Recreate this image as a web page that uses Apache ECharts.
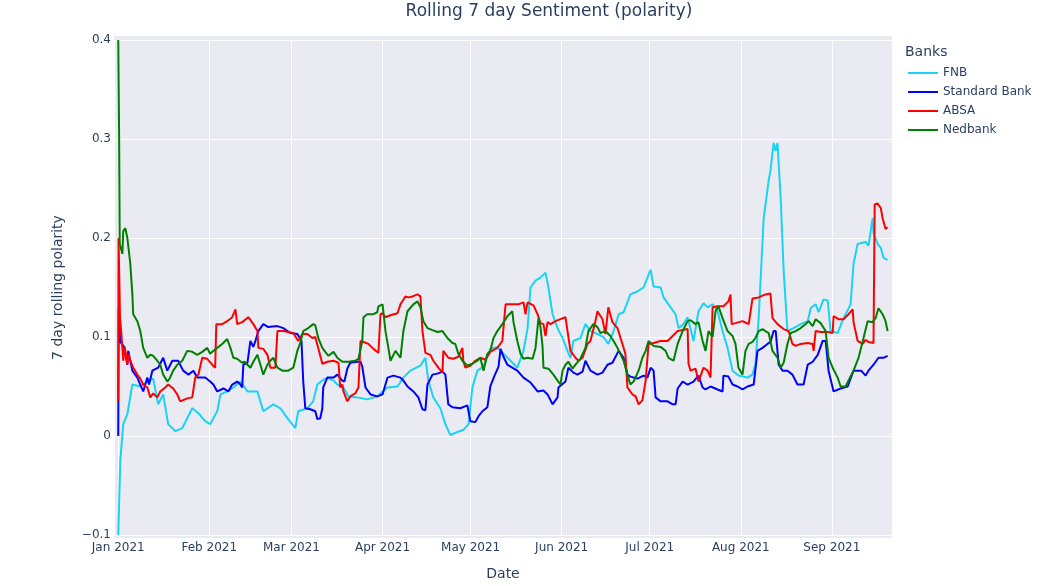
<!DOCTYPE html>
<html>
<head>
<meta charset="UTF-8">
<title>Rolling 7 day Sentiment</title>
<script src="https://cdn.jsdelivr.net/npm/echarts@6/dist/echarts.min.js"></script>
<style>
  *{margin:0;padding:0}
  html,body{width:100%;height:100%;background:#fff}
  #main{width:1052px;height:586px}
</style>
</head>
<body>
<div id="main"></div>
<script>
// x values are days since 2021-01-01, y is the 7 day rolling polarity
var seriesNames = ['FNB', 'Standard Bank', 'ABSA', 'Nedbank'];
var monthNames = ['Jan','Feb','Mar','Apr','May','Jun','Jul','Aug','Sep','Oct','Nov','Dec'];
var yTicks = [-0.1, 0, 0.1, 0.2, 0.3, 0.4];

var fnb = [[0,-0.1],[0.7,-0.025],[1.7,0.012],[3.1,0.022],[4.8,0.052],[7.5,0.05],[9.9,0.055],[11.9,0.058],[13.6,0.032],[15.3,0.042],[17.0,0.012],[19.4,0.005],[21.8,0.008],[23.5,0.018],[25.2,0.028],[27.3,0.023],[29.6,0.015],[31.3,0.012],[33.7,0.025],[34.8,0.042],[37.1,0.045],[39.2,0.049],[41.6,0.055],[44.0,0.045],[47.4,0.045],[49.4,0.025],[52.8,0.032],[55.2,0.028],[57.6,0.018],[60.3,0.008],[61.3,0.025],[64.4,0.028],
  [66.4,0.035],[67.8,0.052],[69.5,0.056],[71.2,0.059],[73.3,0.056],[74.6,0.052],[76.7,0.049],[78.4,0.04],[81.4,0.039],[84.8,0.037],[88.2,0.04],[90.0,0.045],[91.7,0.049],[95.1,0.05],[97.1,0.059],[99.5,0.066],[102.9,0.071],[104.6,0.079],[105.6,0.056],[107.3,0.039],[109.7,0.028],[111.4,0.012],[113.1,0.001],[115.5,0.004],[117.5,0.006],[119.3,0.012],[120.6,0.049],[122.3,0.066],[124.4,0.07],[126.7,0.088],[129.1,0.09],
  [130.2,0.086],[133.6,0.076],[135.9,0.069],[138.0,0.086],[139.4,0.109],[140.4,0.15],[142.1,0.157],[143.8,0.16],[145.5,0.165],[146.5,0.15],[147.9,0.123],[149.6,0.109],[151.3,0.099],[153.0,0.086],[154.0,0.079],[155.0,0.096],[157.4,0.099],[159.1,0.113],[160.8,0.106],[163.2,0.103],[165.2,0.1],[166.9,0.093],[168.7,0.106],[170.4,0.123],[172.1,0.125],[174.4,0.143],[176.8,0.146],[178.9,0.15],[180.2,0.16],[181.3,0.168],[182.3,0.151],[184.7,0.15],[185.7,0.14],[188.1,0.13],[189.8,0.123],[190.8,0.109],[192.5,0.113],
  [193.9,0.12],[195.9,0.096],[197.6,0.126],[199.3,0.134],[200.7,0.13],[202.4,0.133],[204.1,0.126],[205.8,0.106],[207.5,0.089],[209.2,0.066],[211.2,0.061],[214.3,0.059],[216.0,0.062],[217.0,0.073],[218.1,0.119],[219.8,0.22],[221.5,0.258],[222.1,0.268],[223.2,0.296],[223.9,0.288],[224.5,0.296],[225.6,0.24],[226.6,0.167],[227.9,0.106],[230.0,0.109],[232.4,0.113],[234.8,0.116],[235.8,0.129],[237.5,0.133],[238.5,0.125],[240.2,0.138],[241.6,0.137],[242.6,0.106],[245.0,0.104],[247.0,0.119],[249.4,0.133],[250.4,0.174],[251.8,0.194],[254.5,0.196],[255.5,0.192],[256.9,0.22],[257.2,0.205],[258.6,0.194],[259.7,0.19],[260.6,0.18],[262.0,0.178]];

var standardBank = [[0,0],[0.15,0.128],[0.7,0.095],[2.0,0.09],[3.1,0.072],[3.4,0.086],[4.8,0.066],[6.5,0.059],[7.5,0.052],[8.5,0.045],[9.0,0.045],[9.9,0.059],[10.5,0.052],[11.6,0.066],[13.6,0.069],[15.3,0.079],[16.7,0.066],[18.4,0.076],[20.4,0.076],[22.1,0.066],[23.9,0.062],[25.6,0.066],[26.9,0.059],[29.6,0.059],[31.3,0.055],[32.4,0.052],[33.7,0.045],[35.8,0.048],[37.5,0.045],[38.8,0.052],[40.5,0.055],[41.6,0.052],[42.2,0.049],[42.6,0.072],[44.0,0.074],[45.0,0.096],[46.0,0.09],[46.7,0.096],[47.7,0.106],[49.4,0.113],[51.1,0.11],[54.2,0.111],[56.2,0.109],[58.6,0.104],[61.0,0.103],[62.4,0.096],[63.0,0.055],[63.7,0.028],[65.4,0.027],[67.1,0.025],[67.8,0.017],[68.8,0.018],[69.5,0.028],[69.8,0.049],[71.2,0.059],[73.3,0.059],[74.6,0.062],[76.3,0.056],[77.0,0.055],[78.0,0.068],[79.0,0.074],[81.4,0.075],[82.5,0.075],[83.1,0.07],[84.2,0.049],[85.9,0.042],[88.2,0.04],[90.0,0.042],[91.7,0.059],[93.7,0.061],[96.1,0.059],[97.1,0.056],[98.5,0.05],[100.5,0.045],[102.2,0.039],[103.6,0.027],[104.6,0.026],[105.3,0.052],[107.0,0.062],[108.7,0.063],[110.4,0.065],[111.4,0.062],[112.4,0.032],[113.8,0.029],[116.5,0.028],[118.9,0.031],[119.9,0.015],[121.6,0.014],[122.7,0.02],[124.0,0.025],[125.7,0.029],
  [126.7,0.05],[128.0,0.06],[129.5,0.07],[130.2,0.088],[131.2,0.08],[132.5,0.072],[133.6,0.07],[135.9,0.066],[138.0,0.059],[140.4,0.054],[142.8,0.045],[144.8,0.046],[146.2,0.042],[147.9,0.032],[149.6,0.039],[149.9,0.049],[152.3,0.055],[153.3,0.069],[155.0,0.064],[156.4,0.062],[158.1,0.065],[159.1,0.076],[160.8,0.066],[163.2,0.062],[164.9,0.064],[166.6,0.072],[168.3,0.074],[170.4,0.086],[172.1,0.079],[173.4,0.062],[174.4,0.06],[176.8,0.058],[178.9,0.061],[180.2,0.059],[181.3,0.069],[182.3,0.066],[183.0,0.039],[184.7,0.035],[187.1,0.035],[188.8,0.032],[189.8,0.032],[190.5,0.048],[192.2,0.055],[193.9,0.052],[195.9,0.055],[197.6,0.061],[199.0,0.049],[200.0,0.047],[201.7,0.05],[204.1,0.047],[205.8,0.045],[206.1,0.061],[207.8,0.06],[209.2,0.052],[210.9,0.05],[212.6,0.047],[214.3,0.05],[216.4,0.052],[217.7,0.086],[219.4,0.089],[221.1,0.093],[222.1,0.095],[223.2,0.106],[223.9,0.106],[224.9,0.072],[225.6,0.069],[226.2,0.066],[227.9,0.066],[229.6,0.062],[231.3,0.052],[233.4,0.052],[234.8,0.072],[236.5,0.075],[238.2,0.082],[239.9,0.096],[240.9,0.096],[241.9,0.066],[243.6,0.045],[246.0,0.048],[248.4,0.05],[250.4,0.066],[253.0,0.066],[254.5,0.061],[255.5,0.066],[257.2,0.072],[258.9,0.079],[260.6,0.079],[262.0,0.081]];

var absa = [[0,0.035],[0.1,0.2],[0.6,0.119],[1.0,0.106],[1.7,0.076],[2.2,0.09],[3.1,0.072],[3.4,0.083],[4.1,0.076],[5.1,0.069],[6.5,0.062],[7.5,0.058],[8.5,0.052],[9.9,0.049],[10.9,0.039],[11.9,0.043],[13.3,0.039],[14.3,0.045],[16.0,0.049],[17.0,0.052],[18.7,0.048],[20.1,0.042],[21.1,0.035],[23.5,0.038],[25.2,0.039],[26.2,0.059],[27.3,0.062],[28.6,0.079],[30.3,0.078],[32.0,0.072],[33.0,0.069],[33.4,0.113],[35.4,0.113],[37.1,0.116],[38.8,0.12],[39.9,0.128],[40.5,0.113],[42.2,0.115],[44.3,0.12],[46.0,0.113],[47.4,0.106],[47.7,0.089],[49.4,0.088],[50.8,0.082],[51.8,0.069],[53.5,0.069],[54.2,0.106],[56.2,0.106],[59.6,0.104],[61.3,0.096],[62.7,0.103],[64.4,0.103],
  [66.1,0.099],[67.1,0.1],[68.1,0.089],[69.5,0.073],[71.2,0.075],[73.3,0.076],[75.0,0.074],[75.6,0.049],[76.3,0.052],[76.7,0.045],[78.0,0.035],[79.0,0.04],[80.7,0.043],[81.8,0.049],[82.5,0.096],[83.5,0.095],[85.2,0.093],[86.9,0.088],[88.6,0.084],[89.3,0.123],[90.0,0.124],[91.0,0.12],[92.7,0.122],[95.1,0.124],[96.1,0.133],[97.8,0.141],[98.8,0.14],[100.2,0.141],[101.9,0.143],[102.9,0.141],[103.6,0.106],[104.6,0.084],[106.3,0.082],[107.3,0.076],[109.0,0.069],[110.4,0.064],[110.7,0.086],[112.4,0.079],[114.1,0.078],[115.8,0.08],[117.2,0.089],[117.5,0.076],[118.2,0.069],[119.9,0.071],[121.6,0.076],[123.3,0.079],[125.0,0.077],[126.7,0.085],[129.1,0.089],[130.8,0.096],[131.9,0.133],[134.2,0.133],[136.3,0.133],[138.0,0.135],[138.7,0.123],[139.4,0.135],[141.4,0.132],[142.8,0.123],[143.8,0.114],[144.8,0.113],[145.5,0.101],[146.2,0.115],[147.2,0.113],[148.9,0.116],[150.6,0.118],[152.3,0.12],[153.0,0.106],[154.0,0.086],[155.7,0.079],[156.7,0.076],[158.1,0.079],[159.8,0.093],[160.8,0.096],[162.5,0.116],[163.2,0.126],[164.9,0.118],[165.9,0.103],[166.9,0.13],[168.3,0.115],[170.0,0.109],[171.7,0.093],[172.7,0.083],[173.4,0.049],[175.1,0.042],[176.2,0.04],[177.2,0.032],[178.5,0.036],[179.6,0.056],[180.6,0.093],[182.3,0.094],[184.7,0.096],[187.1,0.096],[188.8,0.101],[190.5,0.106],[192.2,0.107],[193.9,0.108],[194.2,0.073],[194.9,0.066],[196.6,0.068],[197.6,0.055],[199.3,0.069],[200.7,0.066],[201.7,0.059],[202.4,0.13],[204.1,0.131],[206.1,0.131],[207.8,0.136],[208.5,0.143],[208.9,0.113],[210.2,0.114],[212.6,0.116],[214.7,0.113],[216.0,0.139],[218.1,0.14],[220.4,0.143],[222.1,0.144],[222.8,0.119],[224.5,0.113],[226.6,0.108],[228.3,0.106],[229.6,0.093],[230.7,0.091],[232.4,0.093],[234.8,0.094],[236.5,0.093],[236.8,0.086],[237.5,0.106],[239.2,0.105],[241.6,0.105],[243.3,0.104],[243.6,0.121],[245.3,0.118],[247.0,0.118],[248.7,0.123],[250.1,0.128],[250.4,0.115],[251.8,0.096],[253.5,0.093],[254.5,0.097],[255.5,0.095],[257.2,0.094],[257.6,0.234],[258.6,0.235],[259.7,0.23],[260.3,0.22],[261.3,0.209],[262.0,0.211]];

var nedbank = [[0,0.4],[0.3,0.3],[0.5,0.194],[1.4,0.184],[1.7,0.207],[2.4,0.21],[3.1,0.2],[3.6,0.2],[4.1,0.174],[4.8,0.143],[5.1,0.123],[6.5,0.116],[7.5,0.106],[8.5,0.089],[9.9,0.079],[10.9,0.082],[11.9,0.081],[13.3,0.076],[14.3,0.072],[15.3,0.062],[16.7,0.055],[17.5,0.058],[18.7,0.066],[20.1,0.072],[21.8,0.076],[23.5,0.086],[25.2,0.085],[26.9,0.082],[28.6,0.085],[30.3,0.089],[31.3,0.083],[32.4,0.086],[33.7,0.089],[35.4,0.093],[37.1,0.098],[38.2,0.089],[39.2,0.079],[40.5,0.078],[42.2,0.074],[43.0,0.075],[45.0,0.069],[46.0,0.075],[47.4,0.082],[48.4,0.072],[49.4,0.062],[50.8,0.072],[51.8,0.076],[52.8,0.079],[54.2,0.069],[55.9,0.066],[57.9,0.066],[59.6,0.069],[61.0,0.086],[62.0,0.094],[63.0,0.106],[64.7,0.109],
  [66.4,0.113],[67.1,0.112],[68.1,0.099],[69.5,0.089],[70.5,0.085],[71.6,0.081],[73.3,0.085],[74.6,0.079],[76.3,0.075],[78.4,0.075],[80.7,0.076],[81.8,0.078],[83.1,0.096],[83.5,0.12],[84.8,0.123],[86.9,0.123],[88.2,0.125],[88.6,0.131],[90.0,0.133],[91.0,0.106],[92.0,0.089],[92.7,0.076],[94.4,0.086],[96.1,0.079],[97.1,0.106],[98.5,0.126],[100.5,0.133],[101.9,0.136],[102.9,0.13],[103.9,0.116],[105.3,0.109],[107.0,0.107],[108.7,0.105],[110.4,0.106],[112.1,0.099],[113.8,0.094],[114.8,0.093],[115.8,0.083],[117.2,0.076],[118.9,0.071],[120.6,0.073],[122.3,0.076],[123.3,0.079],[124.4,0.066],[125.7,0.083],[126.7,0.086],[127.8,0.099],[129.1,0.106],[130.8,0.113],[132.5,0.121],[134.2,0.126],[134.6,0.115],[135.9,0.096],[137.0,0.083],[138.0,0.078],[139.4,0.079],[141.1,0.078],[142.1,0.089],[143.1,0.119],[143.8,0.11],[144.5,0.09],[144.8,0.069],[146.5,0.068],[148.2,0.062],[149.6,0.056],[150.6,0.052],[151.3,0.066],[152.3,0.072],[153.3,0.075],[154.7,0.068],[155.7,0.072],[157.4,0.078],[159.1,0.089],[160.1,0.106],[161.8,0.113],[163.2,0.11],[164.2,0.104],[165.9,0.106],[167.6,0.101],[168.7,0.096],[170.0,0.089],[171.0,0.083],[172.1,0.076],[173.4,0.062],[174.4,0.052],[175.5,0.055],[177.2,0.066],[178.5,0.079],[179.6,0.086],[180.6,0.096],[182.3,0.091],[184.7,0.09],[186.4,0.086],[187.4,0.079],[189.1,0.076],[190.5,0.093],[192.2,0.106],[193.9,0.116],[194.9,0.117],[196.6,0.113],[197.6,0.115],[199.0,0.096],[200.0,0.086],[201.0,0.106],[202.4,0.1],[203.4,0.126],[204.4,0.131],[205.8,0.119],[207.5,0.106],[209.2,0.101],[210.2,0.093],[211.2,0.069],[212.6,0.062],[213.6,0.086],[214.7,0.093],[216.0,0.095],[217.0,0.099],[218.1,0.106],[219.4,0.108],[220.4,0.106],[221.5,0.104],[222.8,0.086],[224.5,0.079],[225.6,0.069],[226.6,0.074],[227.9,0.093],[229.0,0.104],[230.7,0.106],[232.4,0.109],[234.1,0.113],[235.1,0.116],[236.5,0.111],[237.5,0.118],[239.2,0.114],[240.9,0.106],[241.9,0.079],[243.3,0.069],[245.0,0.059],[246.0,0.05],[247.7,0.05],[248.7,0.056],[250.4,0.066],[252.1,0.079],[253.8,0.099],[255.2,0.116],[256.9,0.115],[257.9,0.119],[258.9,0.129],[260.3,0.123],[261.3,0.116],[262.0,0.106]];

var lineColors = ['#19d3f3', '#0000ff', '#ff0000', '#008000'];
var textColor = '#2a3f5f';
var fontFamily = 'Verdana, "DejaVu Sans", sans-serif';

var DAY = 86400000;
var start = Date.UTC(2021, 0, 1);
function toTime(pts) {
    return pts.map(function (p) { return [start + p[0] * DAY, p[1]]; });
}
var allData = [fnb, standardBank, absa, nedbank];

var myChart = echarts.init(document.getElementById('main'), null, {renderer: 'canvas'});

var option = {
    useUTC: true,
    animation: false,
    backgroundColor: '#ffffff',
    textStyle: {fontFamily: fontFamily, color: textColor},
    title: [
        {
            text: 'Rolling 7 day Sentiment (polarity)',
            left: 549, top: 3, textAlign: 'center', padding: 0,
            textStyle: {fontSize: 17, fontWeight: 'normal', color: textColor, fontFamily: fontFamily}
        },
        {
            text: 'Banks',
            left: 905, top: 45, padding: 0,
            textStyle: {fontSize: 14, fontWeight: 'normal', color: textColor, fontFamily: fontFamily}
        }
    ],
    legend: {
        orient: 'vertical',
        left: 908, top: 66,
        padding: 0,
        icon: 'rect',
        itemWidth: 30, itemHeight: 2,
        itemGap: 5,
        textStyle: {fontSize: 12, lineHeight: 14, color: textColor, fontFamily: fontFamily},
        data: seriesNames
    },
    // plot background, a bit taller than the tick range like plotly's autorange
    graphic: [{
        type: 'rect', z: -10, silent: true,
        shape: {x: 114, y: 36, width: 778, height: 502},
        style: {fill: '#eaeaf2'}
    }],
    grid: {left: 114, right: 160, top: 40, bottom: 51, containLabel: false},
    xAxis: {
        type: 'time',
        min: start - 1.45 * DAY,
        max: start + 263.5 * DAY,
        splitNumber: 9,
        minInterval: 28 * DAY,
        maxInterval: 31 * DAY,
        name: 'Date',
        nameLocation: 'middle',
        nameGap: 32,
        nameTextStyle: {fontSize: 14, color: textColor, fontFamily: fontFamily},
        axisLine: {show: false},
        axisTick: {show: false},
        splitLine: {show: true, lineStyle: {color: '#ffffff', width: 1}},
        axisLabel: {
            margin: 7, fontSize: 12, color: textColor, fontFamily: fontFamily,
            showMinLabel: false, showMaxLabel: false, hideOverlap: false,
            formatter: function (val) {
                var d = new Date(val);
                return monthNames[d.getUTCMonth()] + ' ' + d.getUTCFullYear();
            }
        }
    },
    yAxis: {
        type: 'value',
        min: yTicks[0],
        max: yTicks[yTicks.length - 1],
        interval: 0.1,
        name: '7 day rolling polarity',
        nameLocation: 'middle',
        nameGap: 49,
        nameRotate: 90,
        nameTextStyle: {fontSize: 14, color: textColor, fontFamily: fontFamily},
        axisLine: {show: false},
        axisTick: {show: false},
        splitLine: {show: true, lineStyle: {color: '#ffffff', width: 1}},
        axisLabel: {
            margin: 3, fontSize: 12, color: textColor, fontFamily: fontFamily,
            formatter: function (v) {
                var r = Math.round(v * 10) / 10;
                if (r === 0) return '0';
                return (r < 0 ? '\u2212' : '') + Math.abs(r).toFixed(1);
            }
        }
    },
    series: seriesNames.map(function (name, i) {
        return {
            name: name,
            type: 'line',
            data: toTime(allData[i]),
            showSymbol: false,
            symbol: 'none',
            smooth: false,
            color: lineColors[i],
            lineStyle: {width: 2, color: lineColors[i]},
            z: 2 + i
        };
    })
};

myChart.setOption(option);
</script>
</body>
</html>
